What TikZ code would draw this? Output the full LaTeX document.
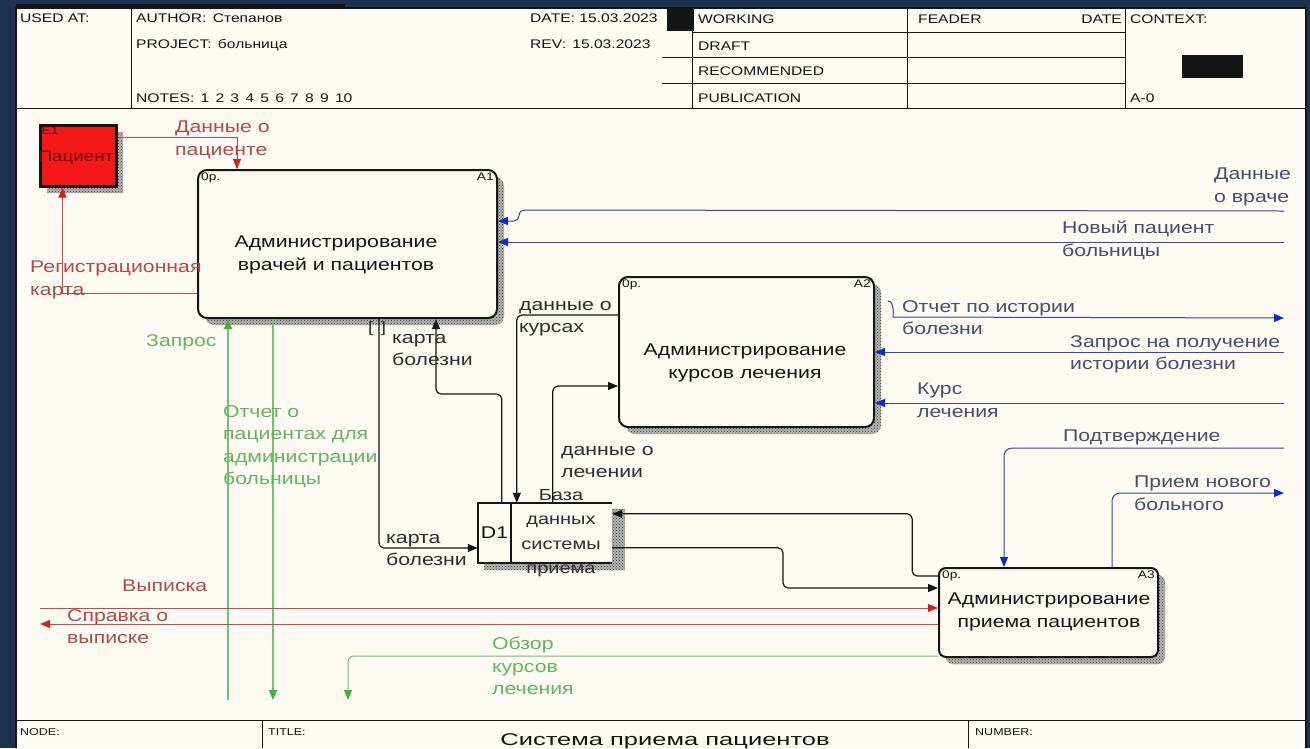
\documentclass[tikz,border=0pt]{standalone}
\usepackage{fontspec}
\setmainfont{Liberation Sans}[FakeStretch=1.25]
\newfontfamily\titlefont{Liberation Sans}[FakeStretch=1.5]
\usepackage{xcolor}
\usetikzlibrary{calc,positioning,patterns,arrows.meta}
\definecolor{slide}{HTML}{1C3250}
\definecolor{sheet}{HTML}{FCFAF1}
\definecolor{ink}{HTML}{151515}
\definecolor{inktext}{HTML}{2E2E2E}
\definecolor{hatch}{HTML}{3A3A3A}
\definecolor{hatchbase}{HTML}{B4B4B0}
\definecolor{redline}{HTML}{C44B4B}
\definecolor{redtip}{HTML}{D42020}
\definecolor{redtext}{HTML}{B34A4A}
\definecolor{greenline}{HTML}{72C172}
\definecolor{greentip}{HTML}{3CB43C}
\definecolor{greentext}{HTML}{63B563}
\definecolor{blueline}{HTML}{3A46A0}
\definecolor{bluetip}{HTML}{1428C8}
\definecolor{bluetext}{HTML}{484E6C}
\definecolor{patient}{HTML}{F21818}

\tikzset{
  hdr/.style={anchor=base west, inner sep=0pt, text=ink, font=\fontsize{12.5}{14}\selectfont},
  cornertag/.style={inner sep=4pt, text=ink, font=\fontsize{11}{12}\selectfont},
  hatched/.style={
    preaction={fill=hatchbase, transform canvas={xshift=7pt, yshift=-7pt}},
    preaction={pattern=crosshatch dots, pattern color=hatch,
      transform canvas={xshift=7pt, yshift=-7pt}}},
  actbox/.style={draw=ink, line width=2pt, rounded corners=9pt, fill=sheet, hatched},
  acttext/.style={align=center, text=ink, font=\fontsize{17}{23}\selectfont},
  lbl/.style={anchor=north west, align=left, inner sep=0pt, font=\fontsize{17}{22.5}\selectfont},
  blackflow/.style={draw=ink, line width=1.2pt, rounded corners=5pt,
      -{Triangle[length=10pt, width=8pt]}},
  redflow/.style={draw=redline, line width=1pt,
      -{Triangle[length=10pt, width=8pt, color=redtip]}},
  greenflow/.style={draw=greenline, line width=1.8pt, rounded corners=5pt,
      -{Triangle[length=10pt, width=8pt, color=greentip]}},
  blueflow/.style={draw=blueline, line width=1pt, rounded corners=8pt,
      -{Triangle[length=10pt, width=8pt, color=bluetip]}},
}

\begin{document}
\begin{tikzpicture}[x=1pt, y=-1pt]
  \useasboundingbox (0,0) rectangle (1310,748);
  \fill[slide] (0,0) rectangle (1310,748);
  \fill[sheet] (16,8) rectangle (1306,748);
  \draw[ink, line width=1.2pt] (16,748) -- (16,8) -- (1306,8) -- (1306,748);
  \draw[ink, line width=3.5pt] (16,6) -- (345,6);

  \draw[ink, line width=1pt] (16,108) -- (1306,108)
    (131,8) -- (131,108) (692,8) -- (692,108) (907,8) -- (907,108) (1125,8) -- (1125,108)
    (692,32) -- (1125,32) (662,57) -- (1125,57) (662,83) -- (1125,83);
  \node[hdr] (usedat) at (20,22) {USED AT:};
  \node[hdr] (author) at (136,22) {AUTHOR:\enspace Степанов};
  \node[hdr] (project) at (136,48) {PROJECT:\enspace больница};
  \node[hdr] (notes) at (136,102) {NOTES:\enspace 1\enspace 2\enspace 3\enspace 4\enspace 5\enspace 6\enspace 7\enspace 8\enspace 9\enspace 10};
  \node[hdr] (date) at (530,22) {DATE: 15.03.2023};
  \node[hdr] (rev) at (530,48) {REV:\enspace 15.03.2023};
  \fill[ink] (667,8) rectangle (694,31);
  \node[hdr] (working) at (698,23) {WORKING};
  \node[hdr] (draft) at (698,50) {DRAFT};
  \node[hdr] (recommended) at (698,75) {RECOMMENDED};
  \node[hdr] (publication) at (698,102) {PUBLICATION};
  \node[hdr] (reader) at (918,23) {FEADER};
  \node[hdr, anchor=base east] (readerdate) at (1122,23) {DATE};
  \node[hdr] (context) at (1130,23) {CONTEXT:};
  \fill[ink] (1182,55) rectangle (1243,78);
  \node[hdr] (nodenum) at (1130,102) {A-0};

  \draw[ink, line width=1pt] (16,720) -- (1306,720) (262,720) -- (262,748) (968,720) -- (968,748);
  \node[hdr, font=\fontsize{10}{12}\selectfont] (nodelbl) at (20,735) {NODE:};
  \node[hdr, font=\fontsize{10}{12}\selectfont] (titlelbl) at (268,735) {TITLE:};
  \node[hdr, font=\fontsize{10}{12}\selectfont] (numberlbl) at (975,735) {NUMBER:};
  \node[anchor=base, inner sep=0pt, text=ink, font=\titlefont\fontsize{17}{20}\selectfont] (title) at (665,745) {Система приема пациентов};

  \node[actbox, minimum width=299pt, minimum height=148pt] (a1) at (347.5,244) {};
  \node[acttext] (a1text) at (336,255) {Администрирование\\врачей и пациентов};
  \node[cornertag, anchor=north west] (a1op) at (a1.north west) {0p.};
  \node[cornertag, anchor=north east] (a1num) at (a1.north east) {A1};

  \node[actbox, minimum width=255pt, minimum height=150pt] (a2) at (746.5,352) {};
  \node[acttext] (a2text) at (745,363) {Администрирование\\курсов лечения};
  \node[cornertag, anchor=north west] (a2op) at (a2.north west) {0p.};
  \node[cornertag, anchor=north east] (a2num) at (a2.north east) {A2};

  \node[actbox, rounded corners=7pt, minimum width=219pt, minimum height=89pt] (a3) at (1048.5,612.5) {};
  \node[acttext] (a3text) at (1049,611.5) {Администрирование\\приема пациентов};
  \node[cornertag, anchor=north west] (a3op) at (a3.north west) {0p.};
  \node[cornertag, anchor=north east] (a3num) at (a3.north east) {A3};

  \node[draw=ink, line width=3pt, fill=patient, hatched, minimum width=76pt, minimum height=61pt] (pat) at (78,155.5) {};
  \node[anchor=north west, inner sep=3pt, text=patient!45!black, font=\fontsize{11}{12}\selectfont] (patid) at (pat.north west) {Е1};
  \node[text=patient!45!black, font=\fontsize{15}{18}\selectfont] (patname) at (76,158) {Пациент};

  \node[minimum width=134pt, minimum height=60pt, inner sep=0pt] (d1) at (545,533) {};
  \fill[hatchbase] ($(d1.north east)+(0,6)$) rectangle ($(d1.south east)+(13,7)$);
  \fill[hatchbase] ($(d1.south west)+(6,0)$) rectangle ($(d1.south east)+(0,7)$);
  \fill[pattern=crosshatch dots, pattern color=hatch] ($(d1.north east)+(0,6)$) rectangle ($(d1.south east)+(13,7)$);
  \fill[pattern=crosshatch dots, pattern color=hatch] ($(d1.south west)+(6,0)$) rectangle ($(d1.south east)+(0,7)$);
  \node[text=ink, font=\fontsize{17}{20}\selectfont] (d1id) at (494.5,533) {D1};
  \node[align=center, text=inktext, font=\fontsize{16}{24.3}\selectfont] (d1name) at (561,533) {База\\данных\\системы\\приема};
  \draw[ink, line width=2pt] (d1.north east) -- (d1.north west) -- (d1.south west) -- (d1.south east);
  \draw[ink, line width=2.5pt] ($(d1.north west)+(33,0)$) -- ($(d1.south west)+(33,0)$);

  \draw[redflow] ($(pat.north east)+(0,14)$) -| ($(a1.north west)+(40,0)$);
  \draw[redflow] ($(a1.south west)+(0,-26)$) -| ($(pat.south west)+(24,0)$);
  \coordinate (zaprosin) at (228,700);
  \coordinate (otchetout) at (273,700);
  \draw[greenflow] (zaprosin) -- (zaprosin |- a1.south);
  \draw[greenflow] (otchetout |- a1.south) -- (otchetout);

  \draw[blackflow] ($(a1.south west)+(182,0)$) |- ($(d1.west)+(0,15)$);
  \draw[blackflow] ($(d1.north west)+(24,0)$) |- ($(a1.south west)+(239,75)$) -- ($(a1.south west)+(239,0)$);
  \draw[blackflow] ($(a2.north west)+(0,39)$) -| ($(d1.north west)+(39,0)$);
  \draw[blackflow] ($(d1.north west)+(75,0)$) |- ($(a2.north west)+(0,110)$);
  \draw[blackflow] ($(a3.north west)+(0,9)$) -| ($(d1.north east)+(300,11)$) -- ($(d1.north east)+(0,11)$);
  \draw[blackflow] ($(d1.north east)+(0,45)$) -| ($(a3.north west)+(-155,21)$) -- ($(a3.north west)+(0,21)$);

  \coordinate (vypiskain) at (40,608);
  \coordinate (spravkaout) at (40,624);
  \coordinate (obzorout) at (348,700);
  \draw[redflow] (vypiskain) -- (vypiskain -| a3.west);
  \draw[redflow] (spravkaout -| a3.west) -- (spravkaout);
  \draw[greenflow, line width=1pt] ($(a3.south west)+(0,-2)$) -| (obzorout);

  \coordinate (vrachin) at (1284,211);
  \coordinate (novyiin) at (1284,242);
  \coordinate (istoriyaout) at (1284,318);
  \coordinate (zaprosistin) at (1284,352);
  \coordinate (kursin) at (1284,403);
  \coordinate (podtverin) at (1284,448);
  \coordinate (priemout) at (1284,493);
  \draw[blueflow, rounded corners=5pt] (vrachin) -- ($(a1.north east)+(21,41)$) |- ($(a1.north east)+(0,52)$);
  \draw[blueflow] (novyiin) -- (novyiin -| a1.east);
  \draw[blueflow] ($(a2.north east)+(13,25)$) .. controls ($(a2.north east)+(20,25)$) and ($(a2.north east)+(18,41)$) .. ($(a2.north east)+(26,41)$) -- (istoriyaout);
  \draw[blueflow] (zaprosistin) -- (zaprosistin -| a2.east);
  \draw[blueflow] (kursin) -- (kursin -| a2.east);
  \draw[blueflow] (podtverin) -| ($(a3.north west)+(66,0)$);
  \draw[blueflow] ($(a3.north west)+(174,0)$) |- (priemout);

  \node[lbl, text=redtext] (lpacdata) at (175,121) {Данные о\\пациенте};
  \node[lbl, text=redtext] (lregkarta) at (30,261) {Регистрационная\\карта};
  \node[lbl, text=greentext] (lzapros) at (146,334) {Запрос};
  \node[lbl, text=greentext] (lotchet) at (223,405) {Отчет о\\пациентах для\\администрации\\больницы};
  \node[lbl, text=inktext, font=\fontsize{15}{16}\selectfont] (ltunnel) at (368,321) {[\,\,\,]};
  \node[lbl, text=inktext] (lkarta1) at (392,334) {карта\\болезни};
  \node[lbl, text=inktext] (lkursy) at (519,301) {данные о\\курсах};
  \node[lbl, text=inktext] (llechenie) at (561,446) {данные о\\лечении};
  \node[lbl, text=inktext] (lkarta2) at (386,534) {карта\\болезни};
  \node[lbl, text=redtext] (lvypiska) at (122,580) {Выписка};
  \node[lbl, text=redtext] (lspravka) at (67,609) {Справка о\\выписке};
  \node[lbl, text=greentext] (lobzor) at (492,637) {Обзор\\курсов\\лечения};
  \node[lbl, text=bluetext] (lvrach) at (1214,168) {Данные\\о враче};
  \node[lbl, text=bluetext] (lnovyi) at (1062,221) {Новый пациент\\больницы};
  \node[lbl, text=bluetext] (listoriya) at (902,300) {Отчет по истории\\болезни};
  \node[lbl, text=bluetext] (lzaprosist) at (1070,335) {Запрос на получение\\истории болезни};
  \node[lbl, text=bluetext] (lkurs) at (917,383) {Курс\\лечения};
  \node[lbl, text=bluetext] (lpodtver) at (1063,430) {Подтверждение};
  \node[lbl, text=bluetext] (lpriem) at (1134,476) {Прием нового\\больного};
\end{tikzpicture}
\end{document}
